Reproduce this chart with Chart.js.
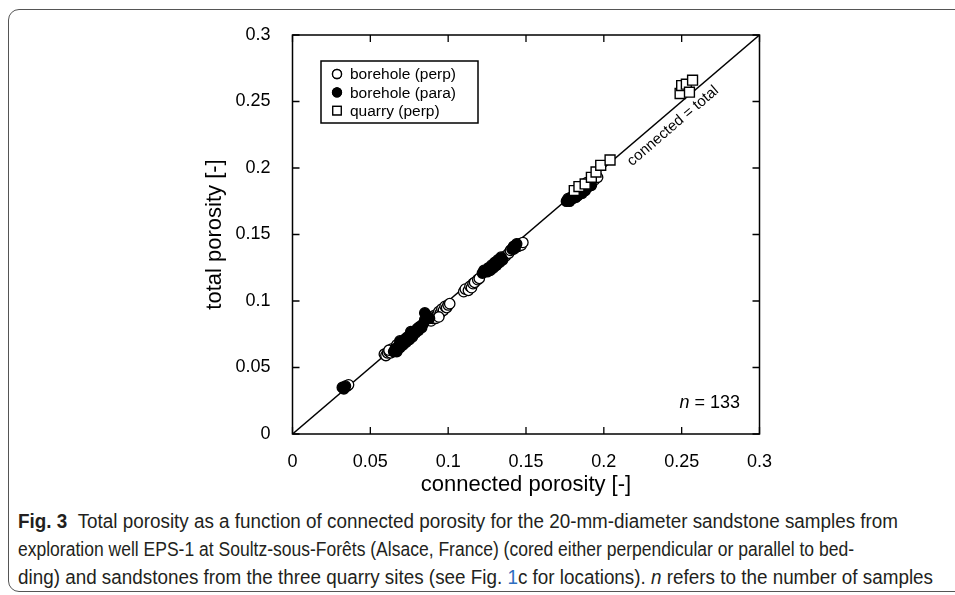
<!DOCTYPE html>
<html>
<head>
<meta charset="utf-8">
<script src="https://cdn.jsdelivr.net/npm/chart.js@4.4.1/dist/chart.umd.min.js"></script>
<style>
html, body { margin: 0; padding: 0; background: #fff; overflow: hidden; }
body { width: 955px; height: 595px; position: relative; font-family: "Liberation Sans", Arial, sans-serif; }
#frame { position: absolute; left: 8px; top: 9px; width: 1000px; height: 583px; border: 1px solid #555; border-radius: 11px; box-sizing: border-box; }
#wrap { position: absolute; left: 0; top: 0; width: 955px; height: 500px; }
.cap { position: absolute; left: 18px; white-space: nowrap; font-family: "Liberation Sans Narrow", "Liberation Sans", sans-serif; font-size: 19.5px; line-height: 22px; color: #231f20; transform-origin: 0 50%; }
.cap a { color: #2f6fbf; text-decoration: none; }
</style>
</head>
<body>
<div id="frame"></div>
<div id="wrap"><canvas id="chart" width="955" height="500"></canvas></div>
<div class="cap" data-w="880" style="top:510px"><b>Fig. 3</b>&nbsp;&nbsp;Total porosity as a function of connected porosity for the 20-mm-diameter sandstone samples from</div>
<div class="cap" data-w="836" style="top:538px">exploration well EPS-1 at Soultz-sous-Forêts (Alsace, France) (cored either perpendicular or parallel to bed-</div>
<div class="cap" data-w="915" style="top:566px">ding) and sandstones from the three quarry sites (see Fig. <a>1</a>c for locations). <i>n</i> refers to the number of samples</div>
<script>
// connected vs total porosity
const perpX = [0.035, 0.036,
  0.059, 0.060, 0.061, 0.062, 0.063, 0.064, 0.066, 0.067, 0.062,
  0.073, 0.077, 0.081,
  0.089, 0.090, 0.091, 0.092, 0.093, 0.094, 0.095, 0.096, 0.097, 0.098, 0.099, 0.100, 0.101, 0.094,
  0.110, 0.111, 0.113, 0.114, 0.115, 0.116, 0.117, 0.119, 0.120,
  0.127, 0.131,
  0.137, 0.139, 0.140, 0.142, 0.145, 0.146, 0.147, 0.148,
  0.185, 0.188, 0.190, 0.192, 0.194, 0.196, 0.183, 0.189];
const perpY = [0.036, 0.037,
  0.060, 0.059, 0.061, 0.062, 0.061, 0.064, 0.064, 0.067, 0.063,
  0.072, 0.076, 0.080,
  0.085, 0.087, 0.089, 0.087, 0.090, 0.092, 0.091, 0.094, 0.093, 0.096, 0.095, 0.097, 0.098, 0.088,
  0.107, 0.109, 0.108, 0.111, 0.110, 0.113, 0.114, 0.116, 0.117,
  0.125, 0.127,
  0.134, 0.136, 0.138, 0.139, 0.141, 0.143, 0.142, 0.144,
  0.184, 0.187, 0.188, 0.190, 0.191, 0.193, 0.181, 0.189];

const paraX = [0.032, 0.033, 0.034,
  0.065, 0.066, 0.067, 0.068, 0.069, 0.070, 0.071, 0.072, 0.073, 0.074, 0.075, 0.076,
  0.077, 0.078, 0.079, 0.080, 0.081, 0.082, 0.083, 0.084, 0.085, 0.086, 0.085, 0.087,
  0.088, 0.069, 0.076,
  0.122, 0.123, 0.125, 0.126, 0.127, 0.128, 0.129, 0.130, 0.131, 0.132, 0.133, 0.134,
  0.135, 0.141, 0.142, 0.143, 0.144,
  0.176, 0.177, 0.178, 0.179, 0.180, 0.181, 0.182, 0.183, 0.184, 0.185, 0.186, 0.187,
  0.188, 0.189, 0.190, 0.191, 0.192, 0.186, 0.183];
const paraY = [0.035, 0.034, 0.036,
  0.062, 0.064, 0.062, 0.066, 0.065, 0.068, 0.067, 0.071, 0.069, 0.073, 0.071, 0.074,
  0.073, 0.077, 0.076, 0.079, 0.078, 0.081, 0.080, 0.083, 0.086, 0.089, 0.091, 0.088,
  0.087, 0.070, 0.077,
  0.121, 0.123, 0.122, 0.125, 0.123, 0.127, 0.125, 0.129, 0.127, 0.131, 0.129, 0.133,
  0.131, 0.139, 0.141, 0.140, 0.143,
  0.175, 0.177, 0.175, 0.178, 0.177, 0.179, 0.178, 0.181, 0.180, 0.182, 0.181, 0.184,
  0.183, 0.185, 0.186, 0.188, 0.187, 0.184, 0.179];

const quarryX = [0.181, 0.184, 0.188, 0.192, 0.195, 0.198, 0.204,
  0.249, 0.250, 0.253, 0.255, 0.257];
const quarryY = [0.183, 0.186, 0.188, 0.193, 0.197, 0.202, 0.206,
  0.256, 0.262, 0.263, 0.257, 0.266];

const seriesNames = ['borehole (perp)', 'borehole (para)', 'quarry (perp)'];
const tickLabels = ['0', '0.05', '0.1', '0.15', '0.2', '0.25', '0.3'];
const lineEnds = [0, 0.3];

const FONT = '"Liberation Sans", Arial, sans-serif';

function pts(xs, ys) {
    return xs.map((x, i) => ({x: x, y: ys[i]}));
}

const sets = [{
    label: seriesNames[2],
    data: pts(quarryX, quarryY),
    pointStyle: 'rect',
    pointRadius: 7,
    backgroundColor: '#fff',
    borderColor: '#000',
    borderWidth: 1.4,
    order: 0
}, {
    label: seriesNames[0],
    data: pts(perpX, perpY),
    pointStyle: 'circle',
    pointRadius: 5.2,
    backgroundColor: '#fff',
    borderColor: '#000',
    borderWidth: 1.3,
    order: 2
}, {
    label: seriesNames[1],
    data: pts(paraX, paraY),
    pointStyle: 'circle',
    pointRadius: 5.2,
    backgroundColor: '#000',
    borderColor: '#000',
    borderWidth: 1.3,
    order: 1
}, {
    label: 'connected = total',
    type: 'line',
    data: pts(lineEnds, lineEnds),
    showLine: true,
    pointRadius: 0,
    borderColor: '#000',
    borderWidth: 1.5,
    order: 10
}];

// frame, inward ticks, titles, legend, notes
const decor = {
    id: 'decor',
    afterDraw(chart) {
        const c = chart.ctx;
        const a = chart.chartArea;
        const xs = chart.scales.x, ys = chart.scales.y;
        c.save();
        c.strokeStyle = '#000';
        c.lineWidth = 1.5;
        c.strokeRect(a.left, a.top, a.right - a.left, a.bottom - a.top);
        c.lineWidth = 1.3;
        const tl = 7;
        c.beginPath();
        xs.ticks.forEach(t => {
            const px = xs.getPixelForValue(t.value);
            c.moveTo(px, a.bottom); c.lineTo(px, a.bottom - tl);
            c.moveTo(px, a.top); c.lineTo(px, a.top + tl);
        });
        ys.ticks.forEach(t => {
            const py = ys.getPixelForValue(t.value);
            c.moveTo(a.left, py); c.lineTo(a.left + tl, py);
            c.moveTo(a.right, py); c.lineTo(a.right - tl, py);
        });
        c.stroke();

        // axis titles
        c.fillStyle = '#000';
        c.font = '22px ' + FONT;
        c.textAlign = 'center';
        c.textBaseline = 'middle';
        c.fillText('connected porosity [-]', (a.left + a.right) / 2, 485);
        c.save();
        c.translate(215, (a.top + a.bottom) / 2);
        c.rotate(-Math.PI / 2);
        c.fillText('total porosity [-]', 0, 0);
        c.restore();

        // legend box
        c.lineWidth = 1.5;
        c.strokeRect(321, 61, 157, 62);
        c.font = '15.5px ' + FONT;
        c.textAlign = 'left';
        const order = [1, 2, 0];
        order.forEach((di, k) => {
            const ds = chart.data.datasets[di];
            const yy = 74 + k * 18.3;
            Chart.helpers.drawPoint(c, {
                pointStyle: ds.pointStyle,
                radius: ds.pointStyle === 'rect' ? 6 : 4.5,
                borderWidth: 1.3,
                rotation: 0
            }, 337, yy);
            c.fillStyle = ds.backgroundColor;
            c.strokeStyle = '#000';
            c.lineWidth = 1.3;
            c.fill();
            c.stroke();
            c.fillStyle = '#000';
            c.fillText(ds.label, 350, yy + 1);
        });

        // line label
        const v = 0.239;
        const p0x = xs.getPixelForValue(0), p0y = ys.getPixelForValue(0);
        const p1x = xs.getPixelForValue(0.3), p1y = ys.getPixelForValue(0.3);
        const ang = Math.atan2(p1y - p0y, p1x - p0x);
        const lx = xs.getPixelForValue(v), ly = ys.getPixelForValue(v);
        c.save();
        c.translate(lx - Math.sin(ang) * 13, ly + Math.cos(ang) * 13);
        c.rotate(ang);
        c.font = '15px ' + FONT;
        c.textAlign = 'center';
        c.fillText(chart.data.datasets[3].label, 0, 0);
        c.restore();

        // n = 133
        const nTotal = perpX.length + paraX.length + quarryX.length;
        c.font = '18px ' + FONT;
        c.textAlign = 'right';
        const rest = ' = ' + nTotal;
        c.fillText(rest, 740, 403);
        const w = c.measureText(rest).width;
        c.font = 'italic 18px ' + FONT;
        c.fillText('n', 740 - w, 403);
        c.restore();
    }
};

const ctx = document.getElementById('chart').getContext('2d');
const chart = new Chart(ctx, {
    type: 'scatter',
    data: { datasets: sets },
    options: {
        responsive: false,
        animation: false,
        layout: { padding: { left: 0, top: 35, right: 195.5, bottom: 0 } },
        plugins: { legend: { display: false }, tooltip: { enabled: false } },
        scales: {
            x: {
                type: 'linear', min: 0, max: 0.3,
                grid: { display: false },
                border: { display: false },
                ticks: {
                    stepSize: 0.05, padding: 9, color: '#000',
                    font: { family: FONT, size: 18 },
                    callback: (v, i) => tickLabels[i]
                },
                afterFit: s => { s.height = 66; }
            },
            y: {
                type: 'linear', min: 0, max: 0.3,
                grid: { display: false },
                border: { display: false },
                ticks: {
                    stepSize: 0.05, padding: 14, color: '#000',
                    font: { family: FONT, size: 18 },
                    callback: (v, i) => tickLabels[i]
                },
                afterFit: s => { s.width = 292.5; }
            }
        }
    },
    plugins: [decor]
});

// squeeze each caption line to its printed width
document.querySelectorAll('.cap').forEach(el => {
    const w = el.getBoundingClientRect().width;
    el.style.transform = 'scaleX(' + (el.dataset.w / w) + ')';
});
</script>
</body>
</html>
